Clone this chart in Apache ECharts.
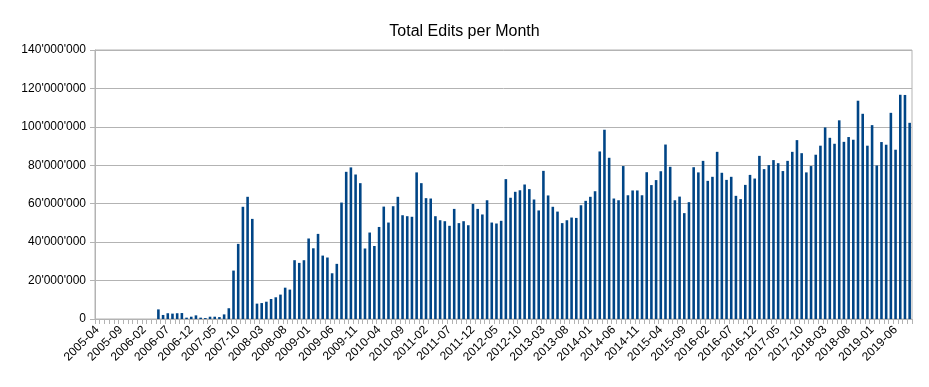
<!DOCTYPE html>
<html>
<head>
<meta charset="utf-8">
<script src="https://cdn.jsdelivr.net/npm/echarts@6/dist/echarts.min.js"></script>
<style>html,body{margin:0;padding:0;background:#fff}#c{width:929px;height:387px}</style>
</head>
<body>
<div id="c"></div>
<script>
// Months from 2005-04 through 2019-09
var startYear = 2005, startMonth = 4, monthCount = 174;
var months = [];
for (var k = 0; k < monthCount; k++) {
  var m = startMonth - 1 + k;
  var y = startYear + Math.floor(m / 12);
  var mm = (m % 12) + 1;
  months.push(y + '-' + (mm < 10 ? '0' + mm : mm));
}

// Total edits per month, in millions
var editsMillions = [
  0,0,0,0,0,0,0,0,0,0,0,0,0,
  5.0,2.1,3.0,2.8,3.0,3.1,0.7,1.2,1.9,0.7,0.5,1.2,1.2,1.0,2.4,5.6,
  25.2,39.1,58.4,63.6,52.1,8.0,8.3,9.0,10.4,11.3,12.7,16.3,15.3,
  30.6,29.2,30.6,41.9,36.8,44.3,33.0,32.0,23.8,28.7,60.6,76.6,78.9,
  75.2,70.7,36.7,45.0,38.0,47.9,58.5,50.2,58.7,63.6,54.0,53.5,53.2,
  76.3,70.7,62.9,62.7,53.5,51.4,50.9,48.5,57.3,49.9,50.9,48.8,59.9,
  57.3,54.4,61.8,50.2,49.7,51.1,72.8,63.1,66.2,67.0,70.0,67.6,62.2,
  56.5,77.1,64.3,58.4,55.9,49.9,51.4,52.8,52.6,59.2,61.5,63.6,66.5,
  87.2,98.5,83.9,62.7,61.8,79.6,64.4,66.9,66.9,64.4,76.4,69.7,72.3,
  76.9,90.8,79.2,61.8,63.7,55.1,60.8,79.0,76.3,82.3,71.9,74.0,87.0,
  76.1,72.4,74.0,64.1,62.4,69.8,75.0,73.1,84.9,78.0,80.1,82.7,81.1,
  77.0,82.3,87.0,93.1,86.3,76.3,79.6,85.5,90.2,99.7,94.3,91.2,103.4,
  92.2,94.7,93.3,113.6,106.8,90.2,100.9,79.9,92.1,90.7,107.3,88.1,
  116.7,116.6,102.1
];

var yTicks = [0, 20000000, 40000000, 60000000, 80000000, 100000000, 120000000, 140000000];

var edits = editsMillions.map(function (v) { return Math.round(v * 1000000); });

function fmt(v) {
  return String(v).replace(/\B(?=(\d{3})+(?!\d))/g, "'");
}

var chart = echarts.init(document.getElementById('c'), null, {renderer: 'canvas'});
chart.setOption({
  animation: false,
  backgroundColor: '#ffffff',
  textStyle: {fontFamily: 'Liberation Sans'},
  title: {
    text: 'Total Edits per Month',
    left: 'center',
    top: 19,
    textStyle: {fontFamily: 'Liberation Sans', fontSize: 16, fontWeight: 'normal', color: '#000'}
  },
  grid: {
    left: 95, right: 17, top: 50, bottom: 68,
    show: true, borderColor: '#b3b3b3', borderWidth: 1
  },
  xAxis: {
    type: 'category',
    data: months,
    boundaryGap: true,
    axisLine: {show: true, lineStyle: {color: '#b3b3b3', width: 1}},
    axisTick: {show: true, interval: 0, length: 5, lineStyle: {color: '#b3b3b3'}},
    axisLabel: {
      interval: 4, rotate: 45, fontSize: 12, color: '#000', margin: 9,
      fontFamily: 'Liberation Sans'
    },
    splitLine: {show: false}
  },
  yAxis: {
    type: 'value',
    min: yTicks[0],
    max: yTicks[yTicks.length - 1],
    interval: yTicks[1] - yTicks[0],
    axisLine: {show: true, lineStyle: {color: '#b3b3b3', width: 1}},
    axisTick: {show: true, length: 5, lineStyle: {color: '#b3b3b3'}},
    axisLabel: {
      fontSize: 12, color: '#000', margin: 9, fontFamily: 'Liberation Sans',
      formatter: function (v) { return fmt(v); }
    },
    splitLine: {show: true, lineStyle: {color: '#b3b3b3', width: 1}}
  },
  series: [{
    type: 'bar',
    data: edits,
    barWidth: '55%',
    itemStyle: {color: '#004586'}
  }]
});
</script>
</body>
</html>
